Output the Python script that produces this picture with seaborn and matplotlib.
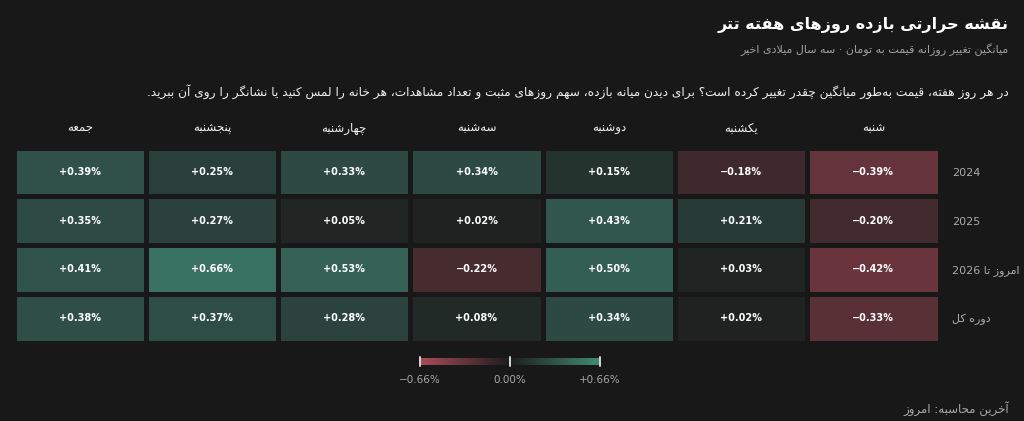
import re
import numpy as np
import pandas as pd
import matplotlib
matplotlib.use("Agg")
import matplotlib.pyplot as plt
import seaborn as sns
from matplotlib.colors import LinearSegmentedColormap, Normalize
from matplotlib.cm import ScalarMappable

# متن‌ها
title = "نقشه حرارتی بازده روزهای هفته تتر"
subtitle = "میانگین تغییر روزانه قیمت به تومان · سه سال میلادی اخیر"
description = ("در هر روز هفته، قیمت به\u200cطور میانگین چقدر تغییر کرده است؟ "
               "برای دیدن میانه بازده، سهم روزهای مثبت و تعداد مشاهدات، "
               "هر خانه را لمس کنید یا نشانگر را روی آن ببرید.")
footer = "آخرین محاسبه: امروز"

# روزهای هفته (از شنبه) و دوره‌ها
days = ["شنبه", "یکشنبه", "دوشنبه", "سه\u200cشنبه", "چهارشنبه", "پنجشنبه", "جمعه"]
periods = ["2024", "2025", "2026 تا امروز", "کل دوره"]

# میانگین تغییر روزانه (درصد)
row_2024 = [-0.39, -0.18, 0.15, 0.34, 0.33, 0.25, 0.39]
row_2025 = [-0.20, 0.21, 0.43, 0.02, 0.05, 0.27, 0.35]
row_2026 = [-0.42, 0.03, 0.50, -0.22, 0.53, 0.66, 0.41]
row_all = [-0.33, 0.02, 0.34, 0.08, 0.28, 0.37, 0.38]

scale_ticks = [-0.66, 0.0, 0.66]
scale_labels = ["\u22120.66%", "0.00%", "+0.66%"]

BG = "#181818"

# --- شکل‌دهی ساده حروف فارسی (matplotlib خودش این کار را نمی‌کند)
FORMS = {
    "\u0627": ("\uFE8D", "\uFE8E", None, None),
    "\u0622": ("\uFE81", "\uFE82", None, None),
    "\u0628": ("\uFE8F", "\uFE90", "\uFE91", "\uFE92"),
    "\u067E": ("\uFB56", "\uFB57", "\uFB58", "\uFB59"),
    "\u062A": ("\uFE95", "\uFE96", "\uFE97", "\uFE98"),
    "\u062B": ("\uFE99", "\uFE9A", "\uFE9B", "\uFE9C"),
    "\u062C": ("\uFE9D", "\uFE9E", "\uFE9F", "\uFEA0"),
    "\u0686": ("\uFB7A", "\uFB7B", "\uFB7C", "\uFB7D"),
    "\u062D": ("\uFEA1", "\uFEA2", "\uFEA3", "\uFEA4"),
    "\u062E": ("\uFEA5", "\uFEA6", "\uFEA7", "\uFEA8"),
    "\u062F": ("\uFEA9", "\uFEAA", None, None),
    "\u0630": ("\uFEAB", "\uFEAC", None, None),
    "\u0631": ("\uFEAD", "\uFEAE", None, None),
    "\u0632": ("\uFEAF", "\uFEB0", None, None),
    "\u0698": ("\uFB8A", "\uFB8B", None, None),
    "\u0633": ("\uFEB1", "\uFEB2", "\uFEB3", "\uFEB4"),
    "\u0634": ("\uFEB5", "\uFEB6", "\uFEB7", "\uFEB8"),
    "\u0635": ("\uFEB9", "\uFEBA", "\uFEBB", "\uFEBC"),
    "\u0636": ("\uFEBD", "\uFEBE", "\uFEBF", "\uFEC0"),
    "\u0637": ("\uFEC1", "\uFEC2", "\uFEC3", "\uFEC4"),
    "\u0638": ("\uFEC5", "\uFEC6", "\uFEC7", "\uFEC8"),
    "\u0639": ("\uFEC9", "\uFECA", "\uFECB", "\uFECC"),
    "\u063A": ("\uFECD", "\uFECE", "\uFECF", "\uFED0"),
    "\u0641": ("\uFED1", "\uFED2", "\uFED3", "\uFED4"),
    "\u0642": ("\uFED5", "\uFED6", "\uFED7", "\uFED8"),
    "\u06A9": ("\uFB8E", "\uFB8F", "\uFB90", "\uFB91"),
    "\u06AF": ("\uFB92", "\uFB93", "\uFB94", "\uFB95"),
    "\u0644": ("\uFEDD", "\uFEDE", "\uFEDF", "\uFEE0"),
    "\u0645": ("\uFEE1", "\uFEE2", "\uFEE3", "\uFEE4"),
    "\u0646": ("\uFEE5", "\uFEE6", "\uFEE7", "\uFEE8"),
    "\u0648": ("\uFEED", "\uFEEE", None, None),
    "\u0647": ("\uFEE9", "\uFEEA", "\uFEEB", "\uFEEC"),
    "\u06CC": ("\uFBFC", "\uFBFD", "\uFBFE", "\uFBFF"),
}
LAM_ALEF = {"\u0627": ("\uFEFB", "\uFEFC"), "\u0622": ("\uFEF5", "\uFEF6")}


def shape(text):
    out = []
    n = len(text)
    i = 0
    while i < n:
        c = text[i]
        if c == "\u200c":
            i += 1
            continue
        if c not in FORMS:
            out.append(c)
            i += 1
            continue
        prev = i > 0 and text[i - 1] in FORMS and FORMS[text[i - 1]][2] is not None
        if c == "\u0644" and i + 1 < n and text[i + 1] in LAM_ALEF:
            lig = LAM_ALEF[text[i + 1]]
            out.append(lig[1] if prev else lig[0])
            i += 2
            continue
        iso, fin, ini, med = FORMS[c]
        nxt = ini is not None and i + 1 < n and text[i + 1] in FORMS
        if prev and nxt:
            out.append(med)
        elif prev:
            out.append(fin)
        elif nxt:
            out.append(ini)
        else:
            out.append(iso)
        i += 1
    return "".join(out)


def fa(text):
    # ترتیب نمایشی راست‌به‌چپ؛ اعداد و لاتین سر جای خود می‌مانند
    vis = shape(text)[::-1]
    return re.sub(r"[0-9A-Za-z]+", lambda m: m.group(0)[::-1], vis)


def fa_words(text):
    # برچسب ردیف‌ها در نمونه با ترتیب واژه چپ‌به‌راست آمده‌اند
    return " ".join(fa(w) for w in text.split(" "))


def fmt(v):
    return ("+" if v >= 0 else "\u2212") + f"{abs(v):.2f}%"


sns.set_theme(style="dark")
plt.rcParams["font.family"] = ["DejaVu Sans"]

df = pd.DataFrame([row_2024, row_2025, row_2026, row_all], index=periods, columns=days)
df = df[days[::-1]]  # راست به چپ: شنبه در سمت راست
annot = df.map(fmt)

cell_cmap = LinearSegmentedColormap.from_list("cells", ["#94404d", "#1f2020", "#3a7262"])
bar_cmap = LinearSegmentedColormap.from_list("bar", ["#a84c5a", "#1c1c1c", "#428a73"])

fig = plt.figure(figsize=(10.24, 4.21), dpi=100, facecolor=BG)
ax = fig.add_axes([13.5 / 1024, 1 - 342.5 / 421, 926 / 1024, 195 / 421])
ax.set_facecolor(BG)

sns.heatmap(df, ax=ax, cmap=cell_cmap, vmin=-0.66, vmax=0.66, annot=annot, fmt="",
            cbar=False, linewidths=3.6, linecolor=BG,
            annot_kws=dict(color="white", fontsize=7, fontweight="bold"),
            xticklabels=[fa(d) for d in df.columns],
            yticklabels=[fa_words(p) for p in df.index])

ax.xaxis.tick_top()
ax.yaxis.tick_right()
ax.tick_params(top=False, bottom=False, left=False, right=False,
               labeltop=True, labelbottom=False, labelleft=False, labelright=True)
ax.tick_params(axis="x", pad=3, labelsize=8.5, labelcolor="#f0f0f0", labelrotation=0)
ax.tick_params(axis="y", pad=3, labelsize=8, labelcolor="#aaaaaa", labelrotation=0)
for lbl in ax.get_yticklabels():
    lbl.set_ha("left")
ax.set_xlabel("")
ax.set_ylabel("")
for s in ax.spines.values():
    s.set_visible(False)

# راهنمای رنگ
cax = fig.add_axes([420 / 1024, 1 - 365 / 421, 180 / 1024, 7 / 421])
sm = ScalarMappable(norm=Normalize(-0.66, 0.66), cmap=bar_cmap)
cb = fig.colorbar(sm, cax=cax, orientation="horizontal")
cb.outline.set_visible(False)
cb.set_ticks(scale_ticks)
cb.set_ticklabels(scale_labels)
cax.tick_params(length=0, pad=7, labelsize=7.5, labelcolor="#a8a8a8")
for t in scale_ticks:
    cax.axvline(t, ymin=-0.2, ymax=1.2, color="#d8d8d8", lw=1.4, clip_on=False)

fig.text(1009 / 1024, 1 - 25 / 421, fa(title), ha="right", va="center",
         fontsize=11.5, fontweight="bold", color="white")
fig.text(1009 / 1024, 1 - 50 / 421, fa(subtitle), ha="right", va="center",
         fontsize=8, color="#a0a0a0")
fig.text(1009 / 1024, 1 - 92 / 421, fa(description), ha="right", va="center",
         fontsize=8.7, color="#f0f0f0")
fig.text(1009 / 1024, 1 - 409 / 421, fa(footer), ha="right", va="center",
         fontsize=8.5, color="#aaaaaa")

fig.savefig("out.png", dpi=100, facecolor=BG)
